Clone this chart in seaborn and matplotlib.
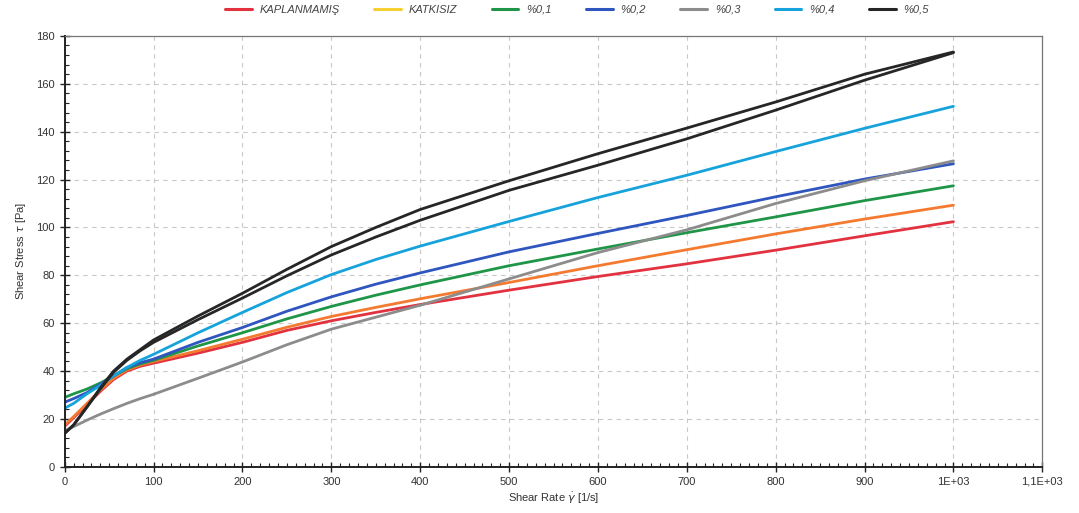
import numpy as np
import pandas as pd
import matplotlib
matplotlib.use("Agg")
import matplotlib.pyplot as plt
import matplotlib.ticker as mticker
from matplotlib.lines import Line2D
import seaborn as sns

# ── Data ─────────────────────────────────────────────────────
shear_rate = [0, 10, 25, 40, 55, 70, 85, 100, 150, 200, 250, 300, 350,
              400, 500, 600, 700, 800, 900, 1000]

kaplanmamis = [17, 20.5, 26, 31.5, 36.5, 40, 42, 43.3, 47.5, 52, 57, 61,
               64.5, 67.8, 73.8, 79.5, 84.8, 90.5, 96.5, 102.4]
katkisiz = [17.5, 21, 26.5, 32, 37, 40.5, 42.5, 44, 48.5, 53.3, 58.3, 62.8,
            66.6, 70.2, 77, 84, 90.7, 97.3, 103.5, 109.3]
p01 = [29, 30.5, 32.5, 35, 38, 41, 43, 44.5, 50.5, 56, 61.8, 67,
       71.7, 76, 84, 91, 97.8, 104.4, 111.2, 117.4]
p02 = [27, 28.5, 31, 34.5, 38, 41.5, 43.5, 45, 52, 58.2, 65, 71,
       76.3, 81, 89.8, 97.5, 105, 112.8, 120.2, 126.6]
p03 = [15, 16.8, 19.5, 22, 24.3, 26.5, 28.5, 30.3, 37, 43.8, 51, 57.5,
       62.5, 67.5, 78.5, 89.5, 99, 110, 119.5, 127.8]
p04 = [24.5, 26.5, 30.5, 34, 38, 41.5, 44.5, 47, 56, 64.5, 72.8, 80.3,
       86.6, 92.2, 102.5, 112.5, 121.8, 131.7, 141.4, 150.6]
p05_up = [14, 17.5, 25, 33, 40, 45, 49, 53, 63, 72.5, 82.5, 92,
          100, 107.5, 119.5, 130.8, 141.5, 152.4, 164, 173.3]
p05_down = [14, 17.5, 25, 32.5, 39.5, 44.5, 48.5, 52, 61.5, 70.5, 79.8, 88.5,
            96, 103, 115.5, 126, 137, 149, 161.5, 173]

samples = ["KAPLANMAMIŞ", "KATKISIZ", "%0,1", "%0,2", "%0,3", "%0,4", "%0,5"]
x_ticks = [0, 100, 200, 300, 400, 500, 600, 700, 800, 900, 1000, 1100]
x_tick_labels = ["0", "100", "200", "300", "400", "500", "600", "700",
                 "800", "900", "1E+03", "1,1E+03"]
y_ticks = list(range(0, 181, 20))

# line colours in the plot, and the (slightly different) legend swatches
line_colors = {
    "KAPLANMAMIŞ": "#e2323f",
    "KATKISIZ":    "#f47a30",
    "%0,1":        "#1f9548",
    "%0,2":        "#2f55bf",
    "%0,3":        "#8c8c8c",
    "%0,4":        "#16a3dc",
    "%0,5":        "#262626",
}
legend_colors = dict(line_colors, KATKISIZ="#f5d030")

series = [
    ("KAPLANMAMIŞ", "up", kaplanmamis),
    ("KATKISIZ", "up", katkisiz),
    ("%0,1", "up", p01),
    ("%0,2", "up", p02),
    ("%0,3", "up", p03),
    ("%0,4", "up", p04),
    ("%0,5", "up", p05_up),
    ("%0,5", "down", p05_down),
]
frames = [pd.DataFrame({"shear_rate": shear_rate, "stress": vals,
                        "sample": name, "ramp": ramp})
          for name, ramp, vals in series]
df = pd.concat(frames, ignore_index=True)

# ── Style ────────────────────────────────────────────────────
sns.set_style("white")
plt.rcParams["font.family"] = ["Liberation Sans", "DejaVu Sans"]
TXT = "#333333"

fig = plt.figure(figsize=(10.79, 5.13), dpi=100)
ax = fig.add_axes([0.060, 0.090, 0.906, 0.840])

sns.lineplot(data=df, x="shear_rate", y="stress", hue="sample",
             units="ramp", estimator=None, palette=line_colors,
             hue_order=samples, linewidth=2.0, legend=False, ax=ax)

ax.set_xlim(0, 1100)
ax.set_ylim(0, 180)
ax.set_xticks(x_ticks)
ax.set_xticklabels(x_tick_labels)
ax.set_yticks(y_ticks)
ax.xaxis.set_minor_locator(mticker.MultipleLocator(10))
ax.yaxis.set_minor_locator(mticker.MultipleLocator(4))
ax.tick_params(which="major", direction="inout", length=7, width=1.0,
               color="#222222", labelsize=8, labelcolor=TXT)
ax.tick_params(which="minor", direction="in", length=3, width=0.8,
               color="#222222")
ax.tick_params(axis="y", which="both", left=True)
ax.tick_params(axis="x", which="both", bottom=True)

ax.grid(True, which="major", linestyle=(0, (4, 4)), color="#c8c8c8",
        linewidth=0.8)
for side in ["left", "bottom"]:
    ax.spines[side].set_color("#222222")
    ax.spines[side].set_linewidth(1.4)
for side in ["top", "right"]:
    ax.spines[side].set_color("#777777")
    ax.spines[side].set_linewidth(0.9)

ax.set_xlabel(r"Shear Rate $\dot{\gamma}$ [1/s]", fontsize=8, color=TXT,
              labelpad=3)
ax.set_ylabel(r"Shear Stress $\tau$ [Pa]", fontsize=8, color=TXT,
              labelpad=6)

handles = [Line2D([0], [0], color=legend_colors[s], lw=2.2) for s in samples]
leg = fig.legend(handles, samples, loc="upper center", ncol=7,
                 bbox_to_anchor=(0.535, 1.01), frameon=False,
                 prop={"size": 8, "style": "italic"}, handlelength=2.4,
                 columnspacing=3.1, handletextpad=0.7)
for t in leg.get_texts():
    t.set_color("#444444")

fig.savefig("out.png", dpi=100)
